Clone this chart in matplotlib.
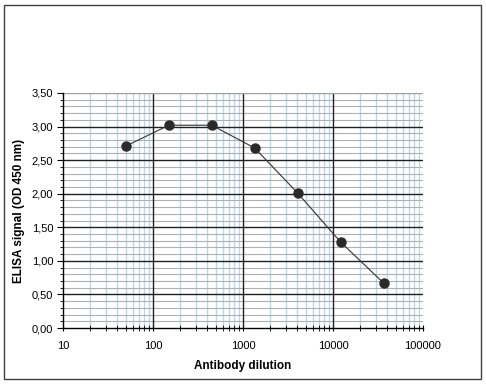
import matplotlib
matplotlib.use("Agg")
import matplotlib.pyplot as plt
from matplotlib.ticker import FixedLocator, FuncFormatter, LogLocator, NullFormatter, MultipleLocator
from matplotlib.patches import Rectangle

plt.rcParams['font.family'] = ['Liberation Sans', 'DejaVu Sans']

dilution = [50, 150, 450, 1350, 4050, 12150, 36450]
signal = [2.71, 3.02, 3.02, 2.68, 2.01, 1.28, 0.67]
x_ticks = [10, 100, 1000, 10000, 100000]
x_tick_labels = ["10", "100", "1000", "10000", "100000"]
y_ticks = [0.0, 0.5, 1.0, 1.5, 2.0, 2.5, 3.0, 3.5]

fig = plt.figure(figsize=(4.86, 3.84), dpi=100)
fig.patches.append(Rectangle((4/486, 5/384), 477/486, 374/384, transform=fig.transFigure,
                             fill=False, edgecolor='#404040', linewidth=1.0))
ax = fig.add_axes([63/486, 56/384, 360/486, 235/384])

ax.set_xscale('log')
ax.set_xlim(10, 100000)
ax.set_ylim(0, 3.5)

ax.xaxis.set_major_locator(FixedLocator(x_ticks))
ax.set_xticklabels(x_tick_labels)
ax.xaxis.set_minor_locator(LogLocator(base=10, subs=range(2, 10)))
ax.xaxis.set_minor_formatter(NullFormatter())
ax.set_yticks(y_ticks)
ax.yaxis.set_major_formatter(FuncFormatter(lambda v, p: f"{v:.2f}".replace('.', ',')))
ax.yaxis.set_minor_locator(MultipleLocator(0.1))

ax.grid(which='minor', axis='x', color='#b8d8ec', linewidth=1.0)
ax.grid(which='minor', axis='y', color='#b0b0b0', linewidth=0.8)
ax.set_axisbelow(True)
for xv in x_ticks[1:-1]:
    ax.axvline(xv, color='#202020', linewidth=1.0, zorder=1)
for yv in y_ticks[1:-1]:
    ax.axhline(yv, color='#202020', linewidth=1.0, zorder=1)
ax.axhline(y_ticks[-1], color='#a0a0a0', linewidth=1.0, zorder=1)

ax.plot(dilution, signal, color='#333333', linewidth=0.8, marker='o', markersize=6.5,
        markerfacecolor='#2a2a2a', markeredgecolor='#2a2a2a', zorder=5)

for s in ['top', 'right']:
    ax.spines[s].set_visible(False)
for s in ['left', 'bottom']:
    ax.spines[s].set_color('black')
    ax.spines[s].set_linewidth(1.0)

ax.tick_params(which='major', direction='out', length=4, labelsize=8, color='black', pad=3)
ax.tick_params(which='minor', direction='out', length=2.5, color='black')
ax.tick_params(axis='x', which='major', direction='inout', length=5, pad=7)
ax.tick_params(axis='x', which='minor', direction='inout', length=4)

ax.set_xlabel('Antibody dilution', fontsize=8.5, fontweight='bold', labelpad=6)
ax.set_ylabel('ELISA signal (OD 450 nm)', fontsize=8.5, fontweight='bold', labelpad=5)

fig.savefig('out.png', dpi=100)
